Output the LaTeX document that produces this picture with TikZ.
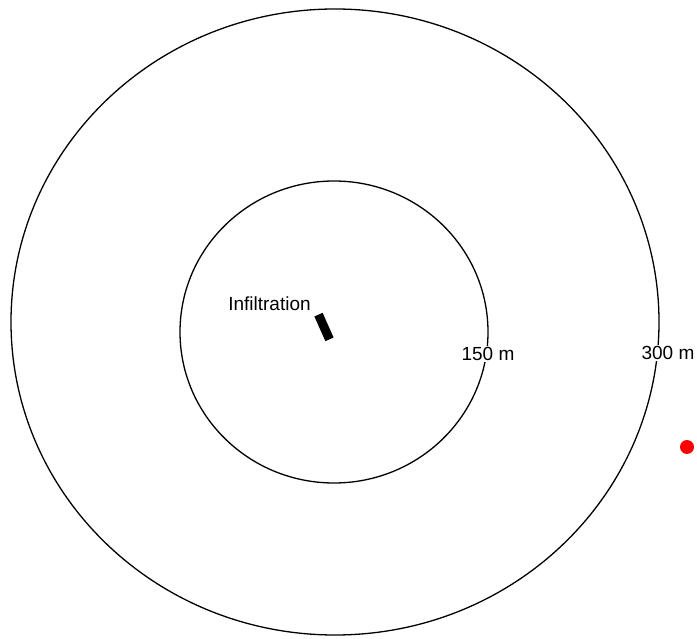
\documentclass[tikz,border=0pt]{standalone}
\usepackage{fontspec}
\setmainfont{Liberation Sans}
\begin{document}
\begin{tikzpicture}[x=1pt,y=-1pt,
  ring/.style={draw=black,line width=1.3pt},
  lbl/.style={font=\fontsize{19}{22}\selectfont,inner sep=1.5pt,fill=white},
  well/.style={fill=black,minimum width=9pt,minimum height=27pt,inner sep=0pt,rotate=24},
  dot/.style={circle,fill=red,minimum size=14pt,inner sep=0pt}]
\useasboundingbox[fill=white] (0,0) rectangle (697,639);
\draw[ring] (335,322) ellipse [x radius=324pt, y radius=313pt];
\draw[ring] (334,332) ellipse [x radius=154pt, y radius=151pt];
\node[well] (inf) at (324,327) {};
\node[lbl,fill=none,inner sep=0pt] (inflbl) at (269.5,304) {Infiltration};
\node[lbl] (l150) at (488,354) {150 m};
\node[lbl] (l300) at (668,353) {300 m};
\node[dot] (pt) at (687,447) {};
\end{tikzpicture}
\end{document}
